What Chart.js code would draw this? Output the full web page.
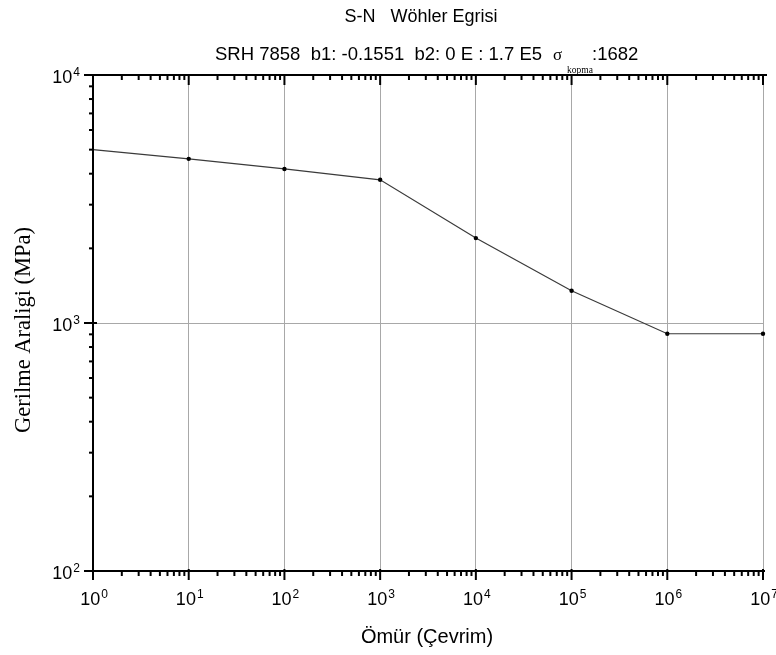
<!DOCTYPE html>
<html>
<head>
<meta charset="utf-8">
<script src="https://cdn.jsdelivr.net/npm/chart.js@4.4.1/dist/chart.umd.min.js"></script>
<style>
  body { margin: 0; background: #fff; }
  #wrap { width: 776px; height: 655px; }
</style>
</head>
<body>
<div id="wrap"><canvas id="myChart" width="776" height="655"></canvas></div>
<script>
// Wöhler (S-N) curve values
const cycles = [1, 10, 100, 1000, 10000, 100000, 1000000, 10000000];
const stress = [5000, 4590, 4180, 3780, 2200, 1350, 905, 905];
const xDecades = [0, 1, 2, 3, 4, 5, 6, 7];
const yDecades = [2, 3, 4];

const titleText = "S-N   Wöhler Egrisi";
const subtitleText = "SRH 7858  b1: -0.1551  b2: 0 E : 1.7 E5";
const xTitle = "Ömür (Çevrim)";
const yTitle = "Gerilme Araligi (MPa)";

const SANS = '"Liberation Sans", Arial, sans-serif';
const SERIF = '"Liberation Serif", "Times New Roman", serif';

// draw "10" with a raised exponent
function drawPow(ctx, exp, cx, cy, align) {
  ctx.font = '18px ' + SANS;
  const w10 = ctx.measureText('10').width;
  ctx.font = '12px ' + SANS;
  const we = ctx.measureText(String(exp)).width;
  const total = w10 + we + 1;
  const left = align === 'right' ? cx - total : cx - total / 2;
  ctx.textAlign = 'left';
  ctx.textBaseline = 'middle';
  ctx.font = '18px ' + SANS;
  ctx.fillText('10', left, cy);
  ctx.font = '12px ' + SANS;
  ctx.fillText(String(exp), left + w10 + 1, cy - 5);
}

const decoration = {
  id: 'decoration',
  afterDraw(chart) {
    const ctx = chart.ctx;
    const a = chart.chartArea;
    const x = chart.scales.x;
    const y = chart.scales.y;
    ctx.save();
    ctx.strokeStyle = '#000';
    ctx.fillStyle = '#000';

    function seg(x1, y1, x2, y2, w) {
      ctx.lineWidth = w;
      ctx.beginPath();
      ctx.moveTo(x1, y1);
      ctx.lineTo(x2, y2);
      ctx.stroke();
    }

    // axis lines
    seg(a.left, a.top, a.left, a.bottom, 2);
    seg(a.left - 9, a.bottom, a.right + 2, a.bottom, 2);
    seg(a.left - 9, a.top, a.right + 4, a.top, 2);

    // x ticks (bottom and top)
    xDecades.forEach(d => {
      const px = x.getPixelForValue(Math.pow(10, d));
      seg(px, a.bottom - 2, px, a.bottom + 9, 2);
      seg(px, a.top, px, a.top + 10, 2);
      if (d < 7) {
        for (let m = 2; m <= 9; m++) {
          const mx = x.getPixelForValue(m * Math.pow(10, d));
          seg(mx, a.bottom, mx, a.bottom + 5, 2);
          seg(mx, a.top, mx, a.top + 5, 2);
        }
      }
      drawPow(ctx, d, px + 1, a.bottom + 29, 'center');
    });

    // y ticks (left)
    yDecades.forEach(d => {
      const py = y.getPixelForValue(Math.pow(10, d));
      seg(a.left - 9, py, a.left + 4, py, 2);
      if (d < 4) {
        for (let m = 2; m <= 9; m++) {
          const my = y.getPixelForValue(m * Math.pow(10, d));
          seg(a.left - 4, my, a.left, my, 2);
        }
      }
      drawPow(ctx, d, a.left - 13, py + 3, 'right');
    });

    // titles
    ctx.textAlign = 'center';
    ctx.textBaseline = 'middle';
    ctx.font = '18px ' + SANS;
    ctx.fillText(titleText, 421, 17);

    ctx.textAlign = 'left';
    ctx.font = '18.5px ' + SANS;
    ctx.fillText(subtitleText, 215, 55);
    ctx.font = '17px ' + SERIF;
    ctx.fillText('σ', 553, 56);
    ctx.font = '9.5px ' + SERIF;
    ctx.fillText('kopma', 567, 70);
    ctx.font = '18.5px ' + SANS;
    ctx.fillText(':1682', 592, 55);

    ctx.textAlign = 'center';
    ctx.font = '20px ' + SANS;
    ctx.fillText(xTitle, 427, 637);

    ctx.save();
    ctx.translate(24, 330);
    ctx.rotate(-Math.PI / 2);
    ctx.font = '22.5px ' + SERIF;
    ctx.fillText(yTitle, 0, 0);
    ctx.restore();

    ctx.restore();
  }
};

const decadeTicks = (min, max) => scale => {
  const t = [];
  for (let d = min; d <= max; d++) t.push({ value: Math.pow(10, d) });
  scale.ticks = t;
};

const ctx = document.getElementById('myChart').getContext('2d');
new Chart(ctx, {
  type: 'line',
  data: {
    datasets: [{
      data: cycles.map((c, i) => ({ x: c, y: stress[i] })),
      borderColor: '#3a3a3a',
      borderWidth: 1.2,
      pointRadius: cycles.map((c, i) => i === 0 ? 0 : 2.2),
      pointBackgroundColor: '#000',
      pointBorderColor: '#000',
      pointBorderWidth: 0,
      tension: 0,
      clip: false
    }]
  },
  options: {
    responsive: false,
    devicePixelRatio: 1,
    animation: false,
    layout: { padding: { left: 93, right: 13, top: 75, bottom: 84 } },
    plugins: {
      legend: { display: false },
      tooltip: { enabled: false }
    },
    scales: {
      x: {
        type: 'logarithmic',
        min: 1,
        max: 1e7,
        afterBuildTicks: decadeTicks(0, 7),
        ticks: { display: false },
        border: { display: false },
        grid: { color: '#a8a8a8', lineWidth: 1, drawTicks: false }
      },
      y: {
        type: 'logarithmic',
        min: 100,
        max: 1e4,
        afterBuildTicks: decadeTicks(2, 4),
        ticks: { display: false },
        border: { display: false },
        grid: { color: '#a8a8a8', lineWidth: 1, drawTicks: false }
      }
    }
  },
  plugins: [decoration]
});
</script>
</body>
</html>
